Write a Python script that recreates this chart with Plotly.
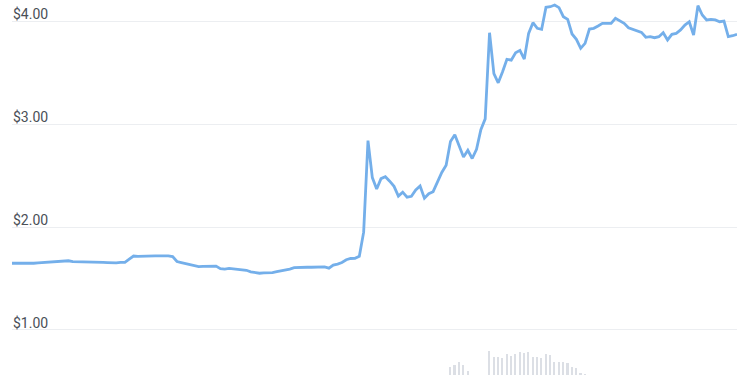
import plotly.graph_objects as go

# hourly price (168 points, one week)
price = [
    1.648, 1.648, 1.648, 1.643, 1.645, 1.648, 1.652, 1.655, 1.660, 1.662,
    1.664, 1.670, 1.676, 1.672, 1.663, 1.663, 1.658, 1.663, 1.660, 1.657,
    1.657, 1.656, 1.654, 1.650, 1.652, 1.657, 1.657, 1.688, 1.718, 1.715,
    1.717, 1.722, 1.722, 1.720, 1.720, 1.720, 1.720, 1.712, 1.665, 1.655,
    1.645, 1.635, 1.625, 1.615, 1.618, 1.621, 1.623, 1.620, 1.596, 1.592,
    1.598, 1.595, 1.590, 1.589, 1.580, 1.565, 1.557, 1.551, 1.555, 1.556,
    1.557, 1.566, 1.572, 1.580, 1.591, 1.606, 1.609, 1.609, 1.609, 1.609,
    1.609, 1.612, 1.612, 1.600, 1.630, 1.640, 1.655, 1.682, 1.694, 1.696,
    1.715, 1.950, 2.838, 2.480, 2.369, 2.470, 2.488, 2.445, 2.395, 2.300,
    2.338, 2.290, 2.298, 2.360, 2.398, 2.280, 2.323, 2.343, 2.430, 2.530,
    2.600, 2.830, 2.895, 2.785, 2.680, 2.745, 2.665, 2.755, 2.945, 3.050,
    3.886, 3.490, 3.400, 3.508, 3.628, 3.620, 3.692, 3.715, 3.630, 3.880,
    3.984, 3.929, 3.919, 4.133, 4.139, 4.155, 4.130, 4.042, 4.016, 3.874,
    3.822, 3.735, 3.783, 3.922, 3.929, 3.951, 3.977, 3.977, 3.977, 4.026,
    4.003, 3.977, 3.935, 3.920, 3.905, 3.890, 3.842, 3.848, 3.838, 3.848,
    3.886, 3.816, 3.871, 3.880, 3.913, 3.961, 3.993, 3.864, 4.149, 4.058,
    4.010, 4.016, 4.010, 3.993, 4.000, 3.848, 3.857, 3.871,
]
hours = list(range(len(price)))

# volume bars (hour index, relative volume)
vol_hours = [101, 102, 103, 104, 105,
             110, 111, 112, 113, 114, 115, 116, 117, 118, 119, 120,
             121, 122, 123, 124, 125, 126, 127, 128, 129, 130, 131, 132]
vol_values = [8.3, 10.0, 12.7, 10.0, 4.3,
              24.3, 18.3, 17.7, 16.7, 21.0, 19.3, 21.0, 23.0, 22.3, 23.0, 18.3,
              18.3, 17.3, 20.7, 19.7, 12.7, 13.3, 12.7, 12.3, 8.3, 7.3, 1.7, 0.6]

tick_vals = [1, 2, 3, 4]
tick_text = ["$1.00", "$2.00", "$3.00", "$4.00"]

fig = go.Figure()
fig.add_trace(go.Bar(
    x=vol_hours, y=vol_values, yaxis="y2", width=0.38,
    marker=dict(color="#dcdfe5", line=dict(width=0)),
    showlegend=False, hoverinfo="skip",
))
fig.add_trace(go.Scatter(
    x=hours, y=price, mode="lines",
    line=dict(color="#74afea", width=2.8),
    showlegend=False,
))

fig.update_layout(
    width=750, height=375,
    margin=dict(l=12, r=13, t=0, b=0),
    paper_bgcolor="white", plot_bgcolor="white",
    font=dict(family="Roboto, sans-serif"),
    xaxis=dict(range=[0, 167], visible=False, showgrid=False, zeroline=False),
    yaxis=dict(
        range=[0.563, 4.204],
        tickvals=tick_vals, ticktext=tick_text,
        ticklabelposition="inside top",
        ticklabelshift=3, ticklabelstandoff=-2,
        tickfont=dict(size=14, color="#4a4f57"),
        showgrid=True, gridcolor="#eceef1", gridwidth=1,
        zeroline=False, showline=False, ticks="",
    ),
    yaxis2=dict(
        range=[0, 375], overlaying="y", visible=False,
        showgrid=False, zeroline=False,
    ),
    bargap=0,
)

fig.write_html("out.html")
